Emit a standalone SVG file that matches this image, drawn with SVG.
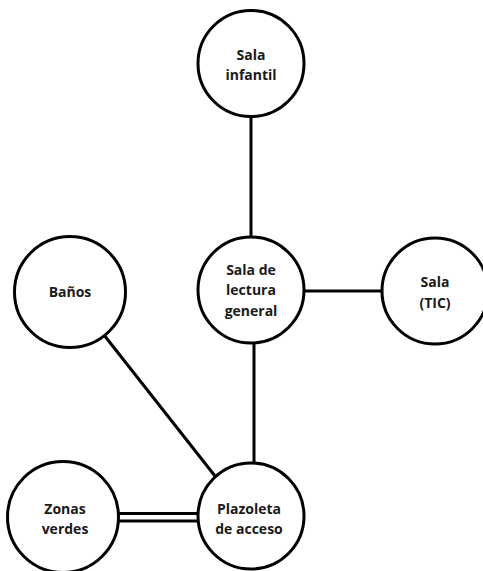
<svg xmlns="http://www.w3.org/2000/svg" width="483" height="571" viewBox="0 0 483 571">
<style>
.node circle{fill:#fff;stroke:#000;stroke-width:3}
.node text{font-family:"Open Sans","Liberation Sans",sans-serif;font-weight:bold;font-size:14px;fill:#1a1a1a;text-anchor:middle}
.edges line{stroke:#000;stroke-width:3}
</style>
<rect width="483" height="571" fill="#fff"/>
<g class="edges" id="connectors">
<line x1="251" y1="117" x2="251" y2="236"/>
<line x1="305" y1="291" x2="382" y2="291"/>
<line x1="254" y1="343" x2="254" y2="465"/>
<line x1="104" y1="335" x2="215" y2="476"/>
<line x1="119" y1="513.5" x2="198" y2="513.5"/>
<line x1="119" y1="521" x2="198" y2="521"/>
</g>
<g class="node" id="sala-infantil">
<circle cx="251" cy="63.5" r="53"/>
<text x="251" y="60">Sala</text>
<text x="251" y="80">infantil</text>
</g>
<g class="node" id="sala-lectura">
<circle cx="251" cy="290" r="53"/>
<text x="251" y="275">Sala de</text>
<text x="251" y="295">lectura</text>
<text x="251" y="316">general</text>
</g>
<g class="node" id="sala-tic">
<circle cx="435" cy="291" r="53"/>
<text x="435" y="287">Sala</text>
<text x="435" y="308">(TIC)</text>
</g>
<g class="node" id="banos">
<circle cx="70" cy="292" r="55.5"/>
<text x="70" y="297">Baños</text>
</g>
<g class="node" id="zonas-verdes">
<circle cx="63" cy="517" r="55.5"/>
<text x="65" y="514">Zonas</text>
<text x="65" y="534">verdes</text>
</g>
<g class="node" id="plazoleta">
<circle cx="251" cy="516" r="53"/>
<text x="249" y="514">Plazoleta</text>
<text x="249" y="534">de acceso</text>
</g>
</svg>
